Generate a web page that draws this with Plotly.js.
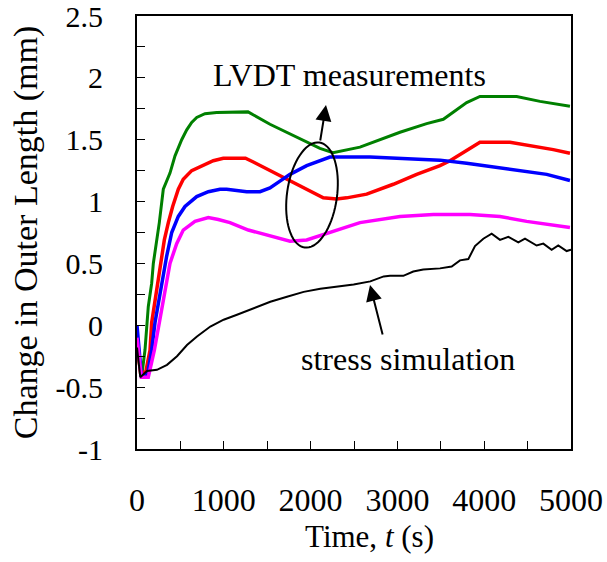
<!DOCTYPE html>
<html>
<head>
<meta charset="utf-8">
<script src="https://cdn.plot.ly/plotly-3.0.1.min.js"></script>
<style>html,body{margin:0;padding:0;background:#fff;}#chart{width:607px;height:562px;}</style>
</head>
<body>
<div id="chart"></div>
<script>
// ---- data ----
const tGreen = [0, 30, 60, 92, 130, 169, 188, 219, 257, 303, 380, 438, 515, 573, 630, 688, 783, 918, 1100, 1279, 1532, 1840, 2108, 2258, 2569, 3030, 3337, 3529, 3644, 3798, 3951, 4374, 4643, 4988];
const yGreen = [-0.1, -0.33, -0.38, -0.2, 0.15, 0.34, 0.50, 0.64, 0.83, 1.10, 1.23, 1.37, 1.50, 1.58, 1.64, 1.68, 1.71, 1.72, 1.725, 1.725, 1.625, 1.52, 1.43, 1.395, 1.44, 1.56, 1.63, 1.665, 1.72, 1.80, 1.85, 1.85, 1.81, 1.77];

const tRed = [0, 40, 100, 150, 169, 227, 284, 315, 361, 411, 476, 533, 630, 745, 879, 994, 1250, 1340, 1532, 1763, 1955, 2146, 2300, 2416, 2646, 2953, 3222, 3491, 3606, 3798, 3951, 4297, 4565, 4796, 4988];
const yRed = [-0.15, -0.38, -0.38, -0.2, 0.02, 0.29, 0.56, 0.69, 0.83, 0.96, 1.10, 1.18, 1.25, 1.29, 1.33, 1.35, 1.35, 1.32, 1.25, 1.165, 1.10, 1.03, 1.02, 1.03, 1.06, 1.14, 1.22, 1.29, 1.33, 1.41, 1.48, 1.48, 1.45, 1.42, 1.39];

const tBlue = [0, 50, 120, 169, 207, 273, 342, 400, 476, 553, 688, 822, 956, 1033, 1264, 1417, 1532, 1647, 1763, 1955, 2108, 2223, 2684, 3030, 3491, 3798, 4105, 4412, 4720, 4988];
const yBlue = [0.0, -0.4, -0.4, -0.2, 0.02, 0.29, 0.56, 0.75, 0.88, 0.96, 1.04, 1.08, 1.10, 1.10, 1.08, 1.08, 1.11, 1.165, 1.22, 1.29, 1.33, 1.36, 1.36, 1.35, 1.335, 1.31, 1.28, 1.255, 1.22, 1.17];

const tMagenta = [0, 50, 130, 200, 257, 323, 380, 457, 533, 668, 822, 937, 1071, 1282, 1609, 1763, 1955, 2261, 2569, 3030, 3414, 3836, 4182, 4489, 4988];
const yMagenta = [-0.1, -0.42, -0.42, -0.2, 0.02, 0.29, 0.50, 0.66, 0.77, 0.84, 0.87, 0.855, 0.83, 0.77, 0.71, 0.68, 0.69, 0.76, 0.83, 0.88, 0.895, 0.895, 0.88, 0.84, 0.79];

const tSim = [0, 38, 115, 230, 346, 461, 576, 691, 845, 998, 1152, 1344, 1536, 1728, 1920, 2112, 2304, 2496, 2688, 2842, 2915, 3068, 3183, 3298, 3491, 3625, 3721, 3817, 3894, 3990, 4086, 4182, 4278, 4393, 4470, 4604, 4681, 4777, 4853, 4950, 5000];
const ySim = [-0.18, -0.42, -0.37, -0.36, -0.32, -0.25, -0.16, -0.09, -0.01, 0.045, 0.085, 0.14, 0.19, 0.23, 0.27, 0.295, 0.31, 0.33, 0.355, 0.395, 0.40, 0.40, 0.435, 0.45, 0.46, 0.475, 0.525, 0.535, 0.64, 0.70, 0.74, 0.69, 0.715, 0.67, 0.70, 0.645, 0.66, 0.61, 0.645, 0.60, 0.61];

const xTickVals = [0, 1000, 2000, 3000, 4000, 5000];
const xTickText = ['0', '1000', '2000', '3000', '4000', '5000'];
const yTickVals = [-1, -0.5, 0, 0.5, 1, 1.5, 2, 2.5];
const yTickText = ['-1', '-0.5', '0', '0.5', '1', '1.5', '2', '2.5'];

const xTitle = '&nbsp;&nbsp;&nbsp;&nbsp;Time, <i>t</i> (s)';
const yTitle = 'Change in Outer Length (mm)';
const labelLVDT = 'LVDT measurements';
const labelSim = 'stress simulation';

// ---- figure ----
const FONT = '"Liberation Serif", "Times New Roman", serif';
const traces = [
  {x: tGreen, y: yGreen, mode: 'lines', line: {color: '#008000', width: 3}, name: 'LVDT 1'},
  {x: tRed, y: yRed, mode: 'lines', line: {color: '#ff0000', width: 3.5}, name: 'LVDT 2'},
  {x: tBlue, y: yBlue, mode: 'lines', line: {color: '#0000ff', width: 3.5}, name: 'LVDT 3'},
  {x: tMagenta, y: yMagenta, mode: 'lines', line: {color: '#ff00ff', width: 3.5}, name: 'LVDT 4'},
  {x: tSim, y: ySim, mode: 'lines', line: {color: '#000000', width: 2}, name: 'stress simulation'}
];

// plot-area geometry used only to place the decorative ellipse and labels
const L = 137, R = 571, T = 16, B = 449;
function px2x(p) { return (p - L) / (R - L) * 5000; }
function py2y(p) { return 2.5 - (p - T) / (B - T) * 3.5; }
function ellipsePath(cx, cy, a, b, deg) {
  const phi = deg * Math.PI / 180;
  let d = '';
  for (let i = 0; i <= 72; i++) {
    const th = i / 72 * 2 * Math.PI;
    const px = cx + a * Math.cos(th) * Math.cos(phi) + b * Math.sin(th) * Math.sin(phi);
    const py = cy + a * Math.cos(th) * Math.sin(phi) - b * Math.sin(th) * Math.cos(phi);
    d += (i === 0 ? 'M' : 'L') + px2x(px).toFixed(2) + ',' + py2y(py).toFixed(4);
  }
  return d + 'Z';
}

const layout = {
  width: 607, height: 562,
  margin: {l: 137, r: 36, t: 16, b: 113},
  paper_bgcolor: '#fff', plot_bgcolor: '#fff',
  showlegend: false,
  font: {family: FONT, size: 30, color: '#000'},
  xaxis: {
    range: [0, 5000], tickvals: xTickVals, ticktext: xTickText,
    ticks: 'inside', ticklen: 8, tickwidth: 1, tickcolor: '#000',
    minor: {dtick: 500, tick0: 0, ticks: 'inside', ticklen: 8, tickwidth: 1, tickcolor: '#000', showgrid: false},
    showline: true, linecolor: '#000', linewidth: 2, mirror: true,
    showgrid: false, zeroline: false,
    ticklabelstandoff: 22, ticklabeloverflow: 'allow',
    tickfont: {family: FONT, size: 32, color: '#000'},
    title: {text: xTitle, font: {family: FONT, size: 31, color: '#000'}, standoff: 8}
  },
  yaxis: {
    range: [-1, 2.5], tickvals: yTickVals, ticktext: yTickText,
    ticks: 'inside', ticklen: 8, tickwidth: 1, tickcolor: '#000',
    minor: {dtick: 0.25, tick0: 0, ticks: 'inside', ticklen: 8, tickwidth: 1, tickcolor: '#000', showgrid: false},
    showline: true, linecolor: '#000', linewidth: 2, mirror: true,
    showgrid: false, zeroline: false,
    ticklabelstandoff: 26, ticklabeloverflow: 'allow',
    tickfont: {family: FONT, size: 30, color: '#000'},
    title: {text: yTitle, font: {family: FONT, size: 34, color: '#000'}, standoff: 8}
  },
  shapes: [
    {type: 'path', xref: 'x', yref: 'y', path: ellipsePath(312, 195, 25, 53, 8), line: {color: '#000', width: 2}, fillcolor: 'rgba(0,0,0,0)'}
  ],
  annotations: [
    {xref: 'x', yref: 'y', x: px2x(349), y: py2y(75), text: labelLVDT, showarrow: false, font: {family: FONT, size: 32, color: '#000'}, xanchor: 'center', yanchor: 'middle'},
    {xref: 'x', yref: 'y', x: px2x(408), y: py2y(359), text: labelSim, showarrow: false, font: {family: FONT, size: 32, color: '#000'}, xanchor: 'center', yanchor: 'middle'},
    {xref: 'x', yref: 'y', x: px2x(326), y: py2y(105), text: '', showarrow: true, arrowhead: 2, arrowsize: 1.6, arrowwidth: 2, arrowcolor: '#000', ax: -6, ay: 37, standoff: 0},
    {xref: 'x', yref: 'y', x: px2x(370), y: py2y(285), text: '', showarrow: true, arrowhead: 2, arrowsize: 1.6, arrowwidth: 2, arrowcolor: '#000', ax: 13, ay: 51, standoff: 0}
  ]
};

Plotly.newPlot('chart', traces, layout, {displayModeBar: false, staticPlot: true});
</script>
</body>
</html>
